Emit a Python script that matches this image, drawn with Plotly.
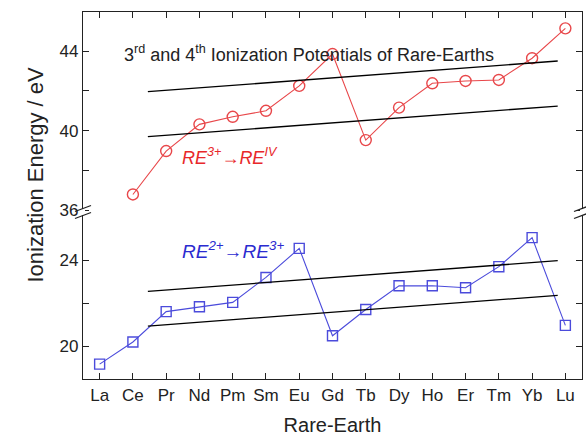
import plotly.graph_objects as go

# Lanthanide series
elements = ["La", "Ce", "Pr", "Nd", "Pm", "Sm", "Eu", "Gd", "Tb", "Dy", "Ho", "Er", "Tm", "Yb", "Lu"]

# 3rd ionization potential (RE2+ -> RE3+), eV
ip3 = [19.16, 20.19, 21.60, 21.83, 22.03, 23.19, 24.54, 20.48, 21.70, 22.80, 22.80, 22.71, 23.69, 25.04, 20.96]

# 4th ionization potential (RE3+ -> RE IV), eV; not shown for La
ip4 = [None, 36.80, 38.98, 40.32, 40.70, 41.00, 42.25, 43.85, 39.53, 41.16, 42.38, 42.50, 42.55, 43.64, 45.14]

# guide-line envelopes (start/end in category index, energy)
guide_x = [1.45, 13.77]
guide4_hi = [41.96, 43.50]
guide4_lo = [39.70, 41.24]
guide3_hi = [22.54, 23.97]
guide3_lo = [20.93, 22.36]

RED = "#E8474A"
BLUE = "#4B4BDB"
FONT = "Liberation Sans, Arial, sans-serif"

W, H = 586, 439
ML, MR, MT, MB = 83, 4, 12, 60
PW, PH = W - ML - MR, H - MT - MB
BREAK = 0.455  # paper fraction where the axis is broken

idx = list(range(len(elements)))

fig = go.Figure()

# lower panel: 3rd ionization
fig.add_trace(go.Scatter(
    x=idx, y=ip3, mode="lines+markers", xaxis="x", yaxis="y",
    line=dict(color=BLUE, width=1.1),
    marker=dict(symbol="square-open", size=10, color=BLUE, line=dict(width=1.4)),
    showlegend=False))
for g in (guide3_hi, guide3_lo):
    fig.add_trace(go.Scatter(x=guide_x, y=g, mode="lines", xaxis="x", yaxis="y",
                             line=dict(color="black", width=1.3), showlegend=False))

# upper panel: 4th ionization
fig.add_trace(go.Scatter(
    x=idx, y=ip4, mode="lines+markers", xaxis="x2", yaxis="y2",
    line=dict(color=RED, width=1.1),
    marker=dict(symbol="circle-open", size=11, color=RED, line=dict(width=1.4)),
    showlegend=False))
for g in (guide4_hi, guide4_lo):
    fig.add_trace(go.Scatter(x=guide_x, y=g, mode="lines", xaxis="x2", yaxis="y2",
                             line=dict(color="black", width=1.3), showlegend=False))

axis_common = dict(showline=True, linecolor="#222", linewidth=1.3, ticks="inside",
                   ticklen=6, tickcolor="#222", tickwidth=1.2, showgrid=False,
                   zeroline=False, tickfont=dict(family=FONT, size=17, color="#222"))

fig.update_layout(
    width=W, height=H,
    margin=dict(l=ML, r=MR, t=MT, b=MB),
    plot_bgcolor="white", paper_bgcolor="white",
    font=dict(family=FONT, color="#222"),
    xaxis=dict(**axis_common, range=[-0.5, 14.5], tickvals=idx, ticktext=elements,
               anchor="y", domain=[0, 1],
               title=dict(text="Rare-Earth", font=dict(family=FONT, size=20), standoff=14)),
    xaxis2=dict(**axis_common, range=[-0.5, 14.5], tickvals=idx, showticklabels=False,
                anchor="y2", side="top", matches="x", overlaying="x"),
    yaxis=dict(**axis_common, range=[18.47, 26.23], domain=[0, BREAK], mirror="ticks",
               tickvals=[20, 22, 24], ticktext=["20", "", "24"], anchor="x"),
    yaxis2=dict(**axis_common, range=[35.92, 45.96], domain=[BREAK, 1], mirror="ticks",
                tickvals=[36, 38, 40, 42, 44], ticktext=["36", "", "40", "", "44"], anchor="x2"),
)

# shared y-axis title
fig.add_annotation(text="Ionization Energy / eV", textangle=-90, xref="paper", yref="paper",
                   x=(20 - ML) / PW, y=(H - MB - 175) / PH, showarrow=False,
                   font=dict(family=FONT, size=22, color="#222"))

fig.add_annotation(text="3<sup>rd</sup> and 4<sup>th</sup> Ionization Potentials of Rare-Earths",
                   xref="paper", yref="paper", x=(309 - ML) / PW, y=(H - MB - 40) / PH,
                   showarrow=False, font=dict(family=FONT, size=18, color="#222"))

fig.add_annotation(text="<i>RE<sup>3+</sup>→RE<sup>IV</sup></i>", xref="paper", yref="paper",
                   x=(180 - ML) / PW, xanchor="left", y=(H - MB - 157) / PH, showarrow=False,
                   font=dict(family=FONT, size=18, color="#E8282A"))

fig.add_annotation(text="<i>RE<sup>2+</sup>→RE<sup>3+</sup></i>", xref="paper", yref="paper",
                   x=(180 - ML) / PW, xanchor="left", y=(H - MB - 250) / PH, showarrow=False,
                   font=dict(family=FONT, size=19, color="#2B2BD0"))

# axis-break marks on both vertical axes
def px_to_paper(dx, dy):
    return dx / PW, dy / PH

for xa in (0.0, 1.0):
    gx, gy = px_to_paper(2, 3)
    fig.add_shape(type="rect", xref="paper", yref="paper", layer="above",
                  x0=xa - gx, x1=xa + gx, y0=BREAK - gy, y1=BREAK + gy,
                  fillcolor="white", line=dict(width=0))
    for off in (-3.5, 3.5):
        x0, y0 = px_to_paper(-8, -3 + off)
        x1, y1 = px_to_paper(8, 3 + off)
        fig.add_shape(type="line", xref="paper", yref="paper", layer="above",
                      x0=xa + x0, y0=BREAK + y0, x1=xa + x1, y1=BREAK + y1,
                      line=dict(color="#222", width=1.3))

fig.write_html("out.html")
